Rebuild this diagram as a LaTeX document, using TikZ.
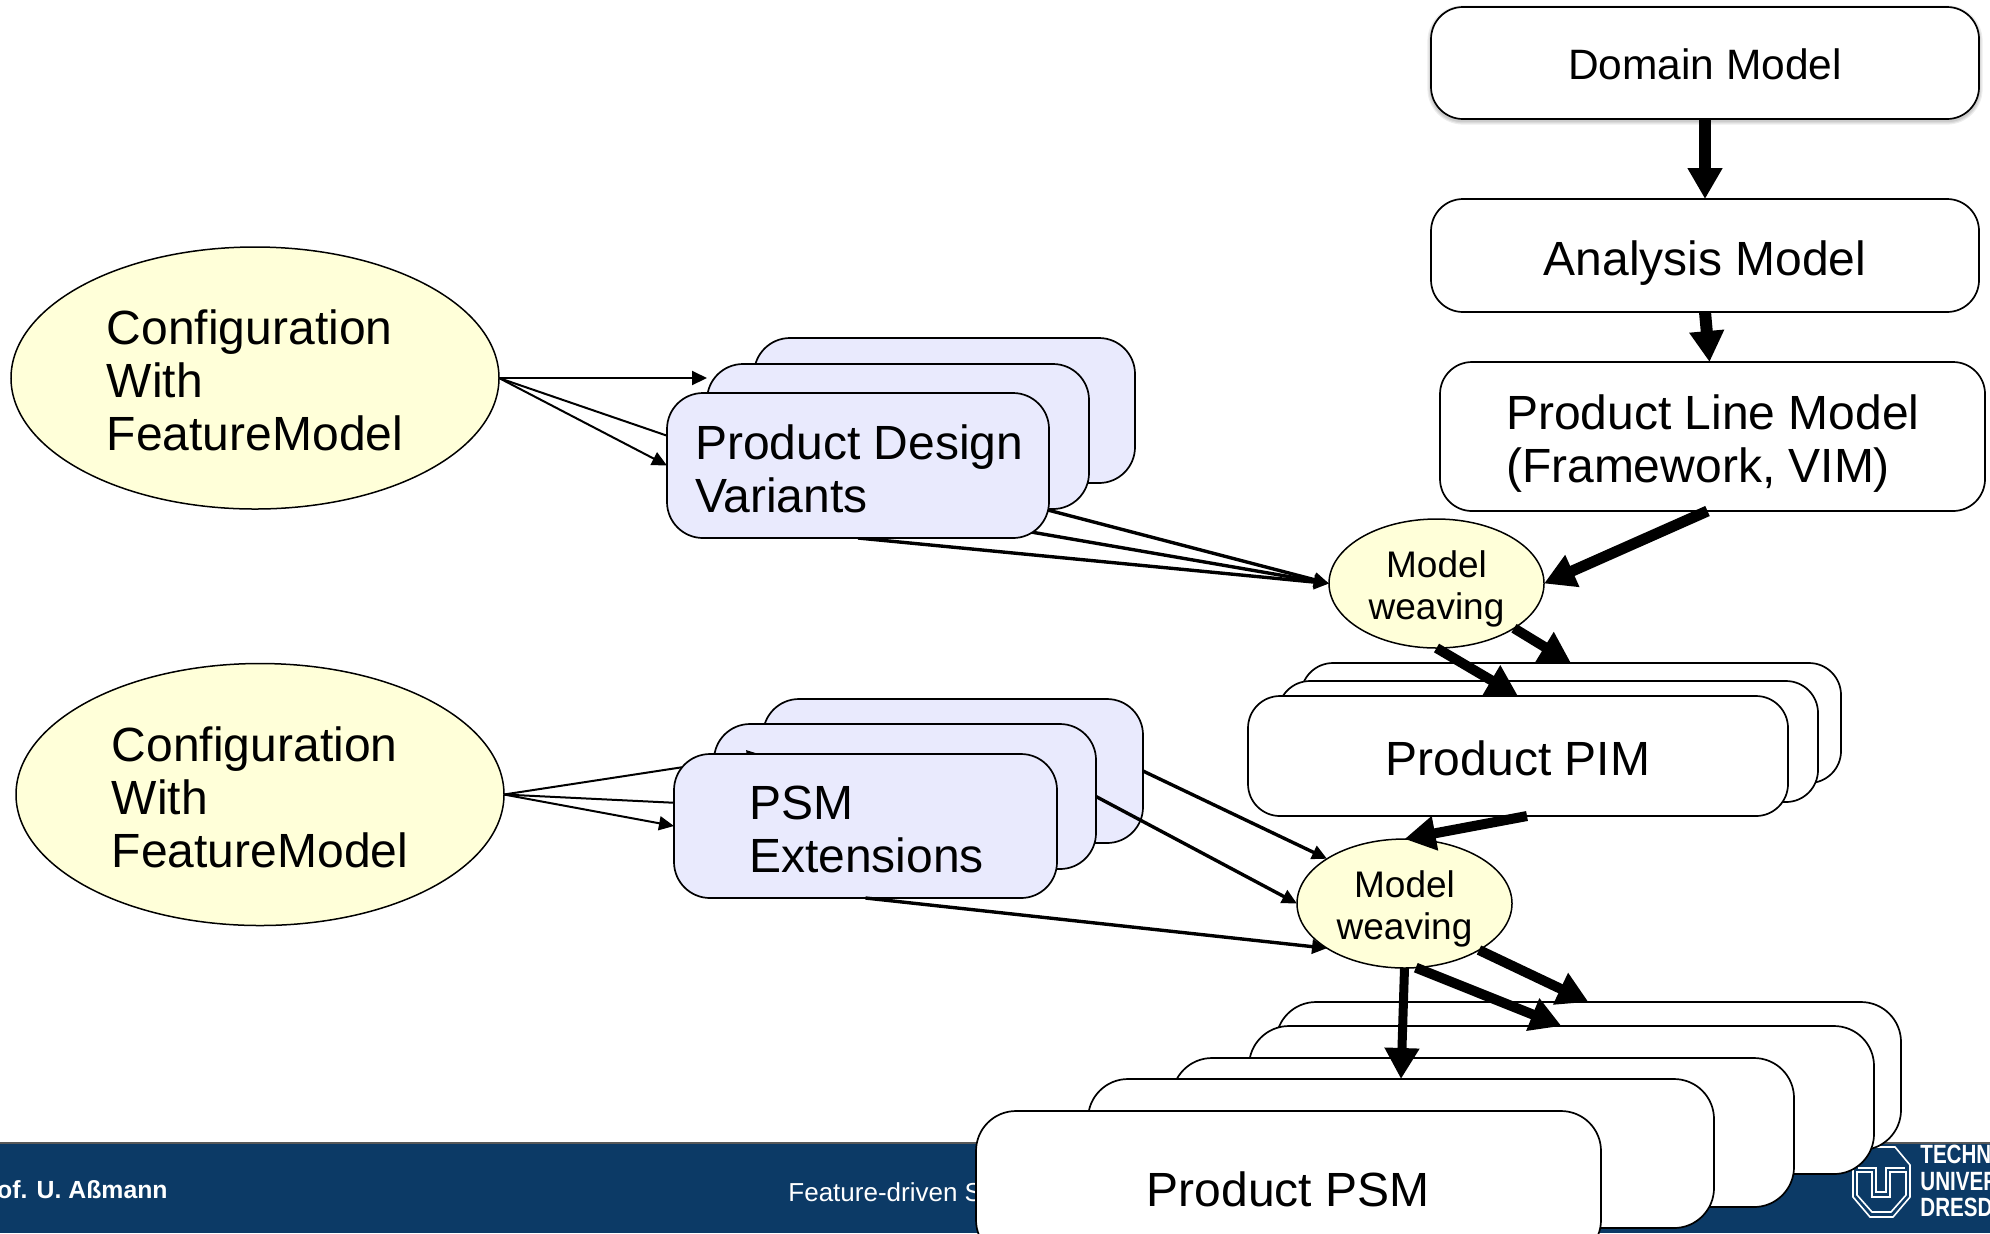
\documentclass[tikz,border=0pt]{standalone}
\usepackage{fontspec}
\setmainfont{Liberation Sans}
\usetikzlibrary{arrows.meta,shapes.geometric}
\definecolor{navy}{HTML}{0C3A66}
\definecolor{featyellow}{HTML}{FFFFD9}
\definecolor{varblue}{HTML}{E9EAFD}
\pgfdeclarelayer{bg}
\pgfdeclarelayer{low}
\pgfsetlayers{bg,low,main}
\newcommand{\bigtext}{\fontsize{24}{26.6}\selectfont}
\newcommand{\stackbox}[7]{%
  \node[boxbase,#6,minimum width={(#4-#2)*.5pt},minimum height={(#5-#3)*.5pt}]
    (#1) at ({(#2+#4)/2},{(#3+#5)/2}) {#7};}
\tikzset{
  boxbase/.style={draw=black,line width=.85pt,rectangle,outer sep=0pt,inner sep=0pt,align=center,font=\bigtext},
  whitebox/.style={fill=white,rounded corners=16pt},
  bigwhite/.style={fill=white,rounded corners=20pt},
  varbox/.style={fill=varblue,rounded corners=18pt},
  leftbox/.style={align=flush left,text width=#1},
  featell/.style={draw=black,line width=.75pt,ellipse,fill=featyellow,inner sep=0pt,outer sep=0pt,
    minimum width=244pt,minimum height=131pt,align=flush left,font=\bigtext,text height=73.2pt},
  weave/.style={draw=black,line width=.75pt,ellipse,fill=featyellow,inner sep=0pt,outer sep=0pt,
    minimum width=107.5pt,minimum height=64.5pt,align=center,font=\fontsize{18.5}{21}\selectfont,text height=39.5pt},
  thin arrow/.style={line width=1pt,-{Triangle[length=7.5pt,width=7pt]}},
  mid arrow/.style={line width=1.7pt,-{Triangle[length=7.5pt,width=7pt]}},
  thick arrow/.style={line width=#1,-{Triangle[length=15.5pt,width=16.5pt]}},
  thick arrow/.default=5pt,
  softshadow/.style={draw=black,opacity=.07,line width=#1,rounded corners=16pt},
  logoline/.style={draw=white,line width=.8pt,line join=miter},
  foot/.style={text=white,inner sep=0pt,font=\fontsize{13}{15}\selectfont},
  logotext/.style={text=white,inner sep=0pt,anchor=base west,font=\fontsize{13.2}{15}\selectfont\bfseries},
}
\begin{document}
\begin{tikzpicture}[x=.5pt,y=-.5pt]
\clip (0,0) rectangle (1990,1233);
\begin{pgfonlayer}{bg}
  \fill[white] (0,0) rectangle (1990,1233);
  \fill[navy] (0,1143) rectangle (1990,1233);
  \draw[black!65,line width=1pt] (0,1142.5) -- (1990,1142.5);
  \node[foot,anchor=base east,font=\fontsize{12.4}{15}\selectfont\bfseries] (author) at (168,1198) {of. U. Aßmann};
  \node[foot,anchor=base west] (title) at (788,1201) {Feature-driven S};
  \draw[logoline] (1868,1147) -- (1895,1147) -- (1910,1165) -- (1910,1197) -- (1893,1217) -- (1870,1217) -- (1853,1197) -- (1853,1165) -- cycle;
  \draw[logoline] (1857,1172) -- (1857,1195) -- (1872,1212) -- (1891,1212) -- (1906,1195) -- (1906,1172) -- (1890,1172) -- (1890,1197) -- (1872,1197) -- (1872,1172) -- cycle;
  \draw[logoline] (1858,1168) -- (1876,1168) -- (1876,1192) -- (1886,1192) -- (1886,1168) -- (1905,1168);
  \node[logotext] (tu1) at (1920,1163) {\scalebox{.78}[1]{TECHN}};
  \node[logotext] (tu2) at (1920,1190) {\scalebox{.78}[1]{UNIVER}};
  \node[logotext] (tu3) at (1920,1216) {\scalebox{.78}[1]{DRESD}};
\end{pgfonlayer}

% right column
\stackbox{domain}{1431}{7}{1979}{119}{whitebox,text height=16.7pt,font=\fontsize{21.25}{24}\selectfont}{Domain Model}
\begin{pgfonlayer}{low}
  \draw[softshadow=1.2pt] ([yshift=-1pt]domain.south west) rectangle ([yshift=-1pt]domain.north east);
  \draw[softshadow=2.4pt] ([yshift=-1pt]domain.south west) rectangle ([yshift=-1pt]domain.north east);
  \draw[softshadow=3.6pt] ([yshift=-1pt]domain.south west) rectangle ([yshift=-1pt]domain.north east);
\end{pgfonlayer}
\stackbox{analysis}{1431}{199}{1979}{312}{whitebox,text height=24.7pt}{Analysis Model}
\stackbox{plm}{1440}{362}{1985}{511}{whitebox,leftbox=272.5pt,text height=24.7pt}{\hspace*{33pt}Product Line Model\\\hspace*{33pt}(Framework, VIM)}

\node[weave] (w1) at (1436.5,583.5) {Model\\weaving};
\node[weave] (w2) at (1404.5,903.5) {Model\\weaving};
\node[featell] (conf1) at (255,378) {Configuration\\With\\FeatureModel};
\node[featell] (conf2) at (260,794.5) {Configuration\\With\\FeatureModel};

% PIM stack
\stackbox{pimC}{1301}{663}{1841}{783}{whitebox}{}
\stackbox{pimB}{1278}{681}{1818}{802}{whitebox}{}
\stackbox{pimA}{1248}{696}{1788}{816}{whitebox,text height=19.8pt}{Product PIM}

% PSM stack
\stackbox{psmA}{1276}{1002}{1901}{1150}{bigwhite}{}
\stackbox{psmB}{1249}{1026}{1874}{1174}{bigwhite}{}
\stackbox{psmC}{1172}{1058}{1794}{1207}{bigwhite}{}
\stackbox{psmD}{1088}{1079}{1714}{1228}{bigwhite}{}
\stackbox{psmE}{976}{1111}{1601}{1260}{bigwhite}{}
\node[font=\bigtext,inner sep=0pt] (psmlabel) at (1288,1189) {Product PSM};

% design variants
\stackbox{desC}{754}{338}{1135}{483}{varbox}{}
\stackbox{desB}{707}{364}{1089}{509}{varbox}{}
\stackbox{desA}{667}{393}{1049}{538}{varbox,leftbox=191pt,text height=20.4pt}{\hspace*{14pt}Product Design\\\hspace*{14pt}Variants}

% connectors beneath design stack
\begin{pgfonlayer}{low}
  \coordinate (hid1) at (700,447);
  \draw[thin arrow] (conf1.east) -- (desB.west |- conf1.east);
  \draw[line width=1pt] (conf1.east) -- (hid1);
  \draw[thin arrow] (conf1.east) -- (desA.west);
  \draw[mid arrow] (desC.south) -- (w1.west);
  \draw[mid arrow] (desB.south) -- (w1.west);
  \draw[mid arrow] (desA.south) -- (w1.west);
\end{pgfonlayer}

% PSM extensions
\stackbox{extC}{763}{699}{1143}{843}{varbox}{}
\stackbox{extB}{714}{724}{1096}{869}{varbox}{}
\coordinate (hid2) at (762,755);
\coordinate (hid3) at (700,804);
\draw[thin arrow] (conf2.east) -- (hid2);
\draw[line width=1pt] (conf2.east) -- (hid3);
\draw[mid arrow] (extC.east) -- (w2.150);
\draw[mid arrow] (extB.east) -- (w2.west);
\stackbox{extA}{674}{754}{1057}{898}{varbox,leftbox=191.5pt,text height=20.4pt}{\hspace*{37.5pt}PSM\\\hspace*{37.5pt}Extensions}
\draw[thin arrow] (conf2.east) -- (extA.west);
\draw[mid arrow] (extA.south) -- (w2.210);

% thick flow
\draw[thick arrow=6pt] (domain.south) -- (analysis.north);
\draw[thick arrow=6pt] (analysis.south) -- ([xshift=-1.5pt]plm.north);
\draw[thick arrow=5.5pt] ([xshift=-2.5pt]plm.south) -- (w1.east);
\draw[thick arrow] (w1.-30) -- (pimC.north);
\draw[thick arrow] (w1.south) -- (pimA.north);
\draw[thick arrow] ([xshift=4.5pt]pimA.south) -- (w2.north);
\draw[thick arrow] (w2.-32) -- (psmA.north);
\draw[thick arrow] (w2.-80) -- (psmB.north);
\draw[thick arrow=4.5pt] (w2.south) -- (psmD.north);
\end{tikzpicture}
\end{document}
